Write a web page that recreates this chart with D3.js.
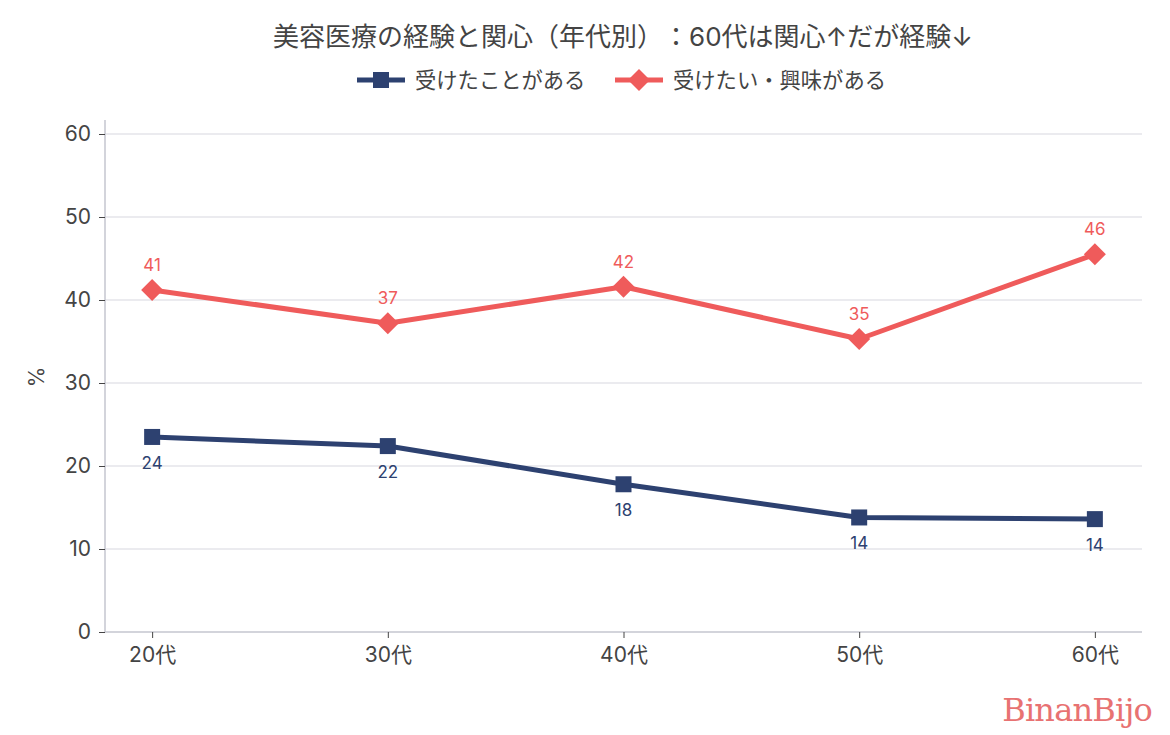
<!DOCTYPE html>
<html><head><meta charset="utf-8">
<script src="https://cdn.jsdelivr.net/npm/d3@7"></script>
<style>
body{margin:0;background:#fff;}
svg{text-spacing-trim:space-all;}
text{font-family:Inter,"Noto Sans CJK JP","Noto Sans",sans-serif;text-spacing-trim:space-all;}
</style></head>
<body><svg id="c" width="1170" height="735"></svg>
<script>
const categories = ["20代","30代","40代","50代","60代"];
const experienced = [23.5,22.4,17.8,13.8,13.6];
const interested = [41.2,37.2,41.6,35.3,45.5];
const yTicks = [0,10,20,30,40,50,60];
const seriesNames = ["受けたことがある","受けたい・興味がある"];
const colors = ["#2d4170","#ef5b5b"];
const title = "美容医療の経験と関心（年代別）：60代は関心↑だが経験↓";

const svg = d3.select("#c");
const x = d3.scalePoint().domain(categories).range([105,1142]).padding(0.2);
const y = d3.scaleLinear().domain([0,60]).range([632,134]);

// grid
svg.append("g").selectAll("line").data(yTicks.filter(d=>d>0)).join("line")
  .attr("x1",105).attr("x2",1142).attr("y1",d=>y(d)).attr("y2",d=>y(d))
  .attr("stroke","#e4e4ea").attr("stroke-width",1.5);

// axes
const ya = svg.append("g").attr("transform","translate(105,0)")
  .call(d3.axisLeft(y).tickValues(yTicks).tickSize(6).tickPadding(8));
ya.select(".domain").attr("stroke","#c4c6cf").attr("stroke-width",1.5).attr("d","M0,"+(y(60)-14)+"V"+y(0));
ya.selectAll(".tick line").attr("stroke","#444");
ya.selectAll(".tick text").attr("fill","#444").attr("font-size",21).attr("font-family","Inter,'Noto Sans CJK JP',sans-serif");

const xa = svg.append("g").attr("transform","translate(0,632)")
  .call(d3.axisBottom(x).tickSize(6).tickPadding(9));
xa.select(".domain").attr("stroke","#c4c6cf").attr("stroke-width",1.5).attr("d","M105,0H1142");
xa.selectAll(".tick line").attr("stroke","#444");
xa.selectAll(".tick text").attr("fill","#444").attr("font-size",21).attr("font-family","Inter,'Noto Sans CJK JP',sans-serif");

svg.append("text").attr("transform","translate(44,377) rotate(-90)")
  .attr("text-anchor","middle").attr("fill","#444").attr("font-size",21).text("%");

// title
svg.append("text").attr("x",623).attr("y",46).attr("text-anchor","middle")
  .attr("fill","#444").attr("font-size",26).attr("font-family","'Noto Sans CJK JP',sans-serif").text(title);

const line = d3.line().x((d,i)=>x(categories[i])).y(d=>y(d));
const data = [experienced, interested];

data.forEach((vals,k)=>{
  svg.append("path").datum(vals).attr("d",line).attr("fill","none")
    .attr("stroke",colors[k]).attr("stroke-width",5).attr("stroke-linejoin","round");
  const g = svg.append("g");
  vals.forEach((v,i)=>{
    const cx = x(categories[i]), cy = y(v);
    if(k===0){
      g.append("rect").attr("x",cx-8).attr("y",cy-8).attr("width",16).attr("height",16).attr("fill",colors[k]);
      g.append("text").attr("x",cx).attr("y",cy+32).attr("text-anchor","middle")
        .attr("fill",colors[k]).attr("font-size",17).text(Math.round(v));
    } else {
      g.append("path").attr("d",`M${cx},${cy-11}L${cx+11},${cy}L${cx},${cy+11}L${cx-11},${cy}Z`).attr("fill",colors[k]);
      g.append("text").attr("x",cx).attr("y",cy-19).attr("text-anchor","middle")
        .attr("fill",colors[k]).attr("font-size",17).text(Math.round(v));
    }
  });
});

// legend
const lg = svg.append("g");
const legendX = [357,615];
seriesNames.forEach((n,k)=>{
  const lx = legendX[k], ly = 80;
  lg.append("line").attr("x1",lx).attr("x2",lx+48).attr("y1",ly).attr("y2",ly)
    .attr("stroke",colors[k]).attr("stroke-width",5);
  const cx = lx+24;
  if(k===0) lg.append("rect").attr("x",cx-8).attr("y",ly-8).attr("width",16).attr("height",16).attr("fill",colors[k]);
  else lg.append("path").attr("d",`M${cx},${ly-11}L${cx+11},${ly}L${cx},${ly+11}L${cx-11},${ly}Z`).attr("fill",colors[k]);
  lg.append("text").attr("x",lx+58).attr("y",ly+8).attr("fill","#444").attr("font-size",21.3)
    .attr("font-family","'Noto Sans CJK JP',sans-serif").text(n);
});

// watermark
svg.append("text").attr("x",1152).attr("y",721).attr("text-anchor","end")
  .attr("fill","#e87272").attr("font-size",32).attr("style","font-family:'DejaVu Serif',serif")
  .attr("letter-spacing",-0.8).text("BinanBijo");
</script></body></html>
